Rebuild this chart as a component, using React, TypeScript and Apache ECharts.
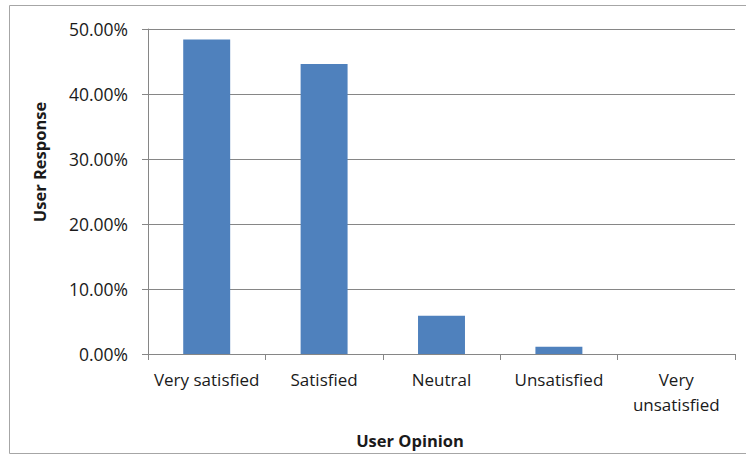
import React, { useEffect, useRef } from "react";
import * as echarts from "echarts";

const categories = ["Very satisfied", "Satisfied", "Neutral", "Unsatisfied", "Very unsatisfied"];
const responses = [48.4, 44.6, 5.9, 1.1, 0];
const yTicks = { min: 0, max: 50, interval: 10 };
const xTitle = "User Opinion";
const yTitle = "User Response";

const FONT = "'Open Sans', 'Noto Sans', sans-serif";

export default function App() {
  const ref = useRef<HTMLDivElement>(null);
  useEffect(() => {
    if (!ref.current) return;
    const chart = echarts.init(ref.current, null, { renderer: "svg" });
    chart.setOption({
      animation: false,
      backgroundColor: "#ffffff",
      grid: { left: 148, top: 29, right: 11, bottom: 101, containLabel: false },
      xAxis: {
        type: "category",
        data: categories,
        axisLine: { show: true, lineStyle: { color: "#868686", width: 1 } },
        axisTick: { show: true, length: 6, lineStyle: { color: "#868686" } },
        axisLabel: {
          color: "#1a1a1a",
          fontFamily: FONT,
          fontSize: 17,
          margin: 13,
          lineHeight: 25,
          interval: 0,
          formatter: (v: string) => (v === "Very unsatisfied" ? "Very\nunsatisfied" : v),
        },
        splitLine: { show: false },
      },
      yAxis: {
        type: "value",
        min: yTicks.min,
        max: yTicks.max,
        interval: yTicks.interval,
        axisLine: { show: true, lineStyle: { color: "#868686", width: 1 } },
        axisTick: { show: true, length: 6, lineStyle: { color: "#868686" } },
        axisLabel: {
          color: "#1a1a1a",
          fontFamily: FONT,
          fontSize: 17.5,
          margin: 20,
          formatter: (v: number) => v.toFixed(2) + "%",
        },
        splitLine: { show: true, lineStyle: { color: "#868686", width: 1 } },
      },
      series: [
        {
          type: "bar",
          data: responses,
          barWidth: "40%",
          itemStyle: { color: "#4f81bd" },
        },
      ],
      graphic: [
        {
          type: "rect",
          shape: { x: 9.5, y: 5.5, width: 745, height: 448 },
          style: { fill: "none", stroke: "#a6a6a6", lineWidth: 1 },
          silent: true,
        },
        {
          type: "text",
          x: 410,
          y: 440,
          style: {
            text: xTitle,
            fontFamily: FONT,
            fontSize: 16.5,
            fontWeight: "bold",
            fill: "#1a1a1a",
            align: "center",
            verticalAlign: "middle",
          },
        },
        {
          type: "text",
          x: 39,
          y: 162,
          rotation: Math.PI / 2,
          style: {
            text: yTitle,
            fontFamily: FONT,
            fontSize: 16.5,
            fontWeight: "bold",
            fill: "#1a1a1a",
            align: "center",
            verticalAlign: "middle",
          },
        },
      ],
    });
    return () => chart.dispose();
  }, []);
  return (
    <div
      ref={ref}
      style={{ position: "fixed", left: 0, top: 0, width: 746, height: 455 }}
    />
  );
}
